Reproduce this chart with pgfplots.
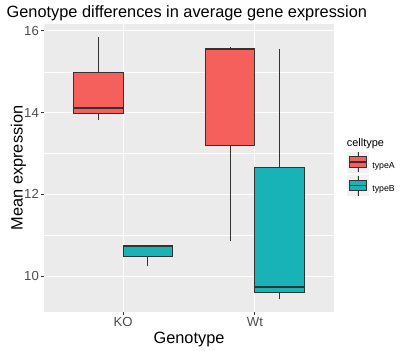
\documentclass[border=0pt]{standalone}
\usepackage{fontspec}
\setmainfont{Liberation Sans}
\usepackage{pgfplots}
\pgfplotsset{compat=1.18}
\usepgfplotslibrary{statistics}
\definecolor{panelbg}{HTML}{EBEBEB}
\definecolor{keybg}{HTML}{F2F2F2}
\definecolor{grey20}{HTML}{333333}
\definecolor{grey30}{HTML}{4D4D4D}
\definecolor{typeA}{HTML}{F5605C}
\definecolor{typeB}{HTML}{17B3B7}
\newcommand{\titlefont}{\fontsize{16.4}{16.4}\selectfont}
\newcommand{\tickfont}{\fontsize{13.2}{13.2}\selectfont}
\newcommand{\legtitlefont}{\fontsize{11}{11}\selectfont}
\newcommand{\legfont}{\fontsize{8.8}{8.8}\selectfont}
\begin{document}
\begin{tikzpicture}
\useasboundingbox (0,0) rectangle (413bp,-351bp);
\begin{axis}[
  at={(44bp,-312bp)}, anchor=south west,
  scale only axis, width=290bp, height=288bp,
  xmin=0.4, xmax=2.6, ymin=9.12, ymax=16.17,
  axis background/.style={fill=panelbg},
  axis line style={draw=none},
  xmajorgrids, ymajorgrids, yminorgrids,
  major grid style={white, line width=1.07bp},
  minor grid style={white, line width=0.53bp},
  xtick={1,2}, xticklabels={KO,Wt},
  ytick={10,12,14,16}, minor ytick={11,13,15},
  xtick pos=left, ytick pos=left,
  tick align=outside,
  major tick length=2.75bp, minor tick length=0pt,
  tick style={color=grey20, line width=1.07bp},
  /pgf/number format/assume math mode=true,
  tick label style={font=\tickfont, text=grey30},
  yticklabel style={anchor=east, inner sep=0pt, xshift=-2.2bp},
  xticklabel style={anchor=north, inner sep=0pt, yshift=-2.2bp},
  boxplot/draw direction=y,
  boxplot/box extend=0.375,
  boxplot/whisker extend=0,
  boxplot/every median/.style={line width=2.1bp},
  legend image code/.code={
    \fill[keybg] (0bp,-6.5bp) rectangle (21.5bp,13.5bp);
    \filldraw[draw=grey20, line width=0.8bp, #1] (2.5bp,-1.5bp) rectangle (19bp,9bp);
    \draw[grey20, line width=1.6bp] (2.5bp,3.75bp) -- (19bp,3.75bp);
    \draw[grey20, line width=0.8bp] (10.75bp,-6.5bp) -- (10.75bp,-1.5bp);
    \draw[grey20, line width=0.8bp] (10.75bp,9bp) -- (10.75bp,13.5bp);
  },
  legend style={at={(axis description cs:1.0448,0.5556)}, anchor=north west,
    draw=none, fill=none, inner sep=0pt, outer sep=0pt,
    row sep=2.5bp, column sep=3.5bp,
    nodes={inner sep=0pt, font=\legfont, text=black},
    cells={anchor=west}},
]
\addplot[boxplot prepared={median=14.12, upper quartile=14.99, lower quartile=13.97, upper whisker=15.85, lower whisker=13.82, draw position=0.8125}, draw=grey20, fill=typeA, line width=0.9bp, forget plot] coordinates {};
\addplot[boxplot prepared={median=10.73, upper quartile=10.75, lower quartile=10.49, upper whisker=10.77, lower whisker=10.25, draw position=1.1875}, draw=grey20, fill=typeB, line width=0.9bp, forget plot] coordinates {};
\addplot[boxplot prepared={median=15.55, upper quartile=15.57, lower quartile=13.19, upper whisker=15.60, lower whisker=10.85, draw position=1.8125}, draw=grey20, fill=typeA, line width=0.9bp, forget plot] coordinates {};
\addplot[boxplot prepared={median=9.73, upper quartile=12.66, lower quartile=9.59, upper whisker=15.56, lower whisker=9.44, draw position=2.1875}, draw=grey20, fill=typeB, line width=0.9bp, forget plot] coordinates {};
\addlegendimage{fill=typeA}
\addlegendentry{typeA}
\addlegendimage{fill=typeB}
\addlegendentry{typeB}
\end{axis}
\node[anchor=base west, font=\titlefont, inner sep=0pt] at (6.5bp,-17bp) {Genotype differences in average gene expression};
\node[anchor=base, rotate=90, font=\titlefont, inner sep=0pt] at (22.5bp,-168bp) {Mean expression};
\node[anchor=base, font=\titlefont, inner sep=0pt] at (189bp,-343.3bp) {Genotype};
\node[anchor=base west, font=\legtitlefont, inner sep=0pt] at (346.7bp,-146.7bp) {celltype};
\end{tikzpicture}
\end{document}
